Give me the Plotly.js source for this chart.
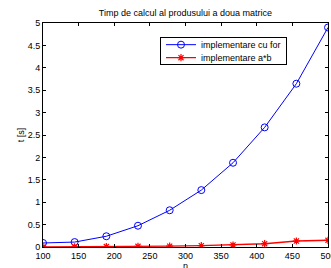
<!DOCTYPE html>
<html>
<head>
<meta charset="utf-8">
<script src="https://cdn.plot.ly/plotly-3.0.1.min.js"></script>
<style>html,body{margin:0;padding:0;background:#fff;}#chart{width:331px;height:268px;}</style>
</head>
<body>
<div id="chart"></div>
<script>
const nValues = [100, 144.4, 188.9, 233.3, 277.8, 322.2, 366.7, 411.1, 455.6, 500];
const forTimes = [0.09, 0.11, 0.24, 0.475, 0.82, 1.27, 1.88, 2.67, 3.645, 4.90];
const matTimes = [0.003, 0.005, 0.01, 0.015, 0.02, 0.03, 0.045, 0.074, 0.134, 0.15];
const seriesNames = ["implementare cu for", "implementare a*b"];
const xTicks = [100, 150, 200, 250, 300, 350, 400, 450, 500];
const yTicks = [0, 0.5, 1, 1.5, 2, 2.5, 3, 3.5, 4, 4.5, 5];
const xLabel = "n";
const yLabel = "t [s]";

const font = {family: "Liberation Sans, Arial, sans-serif", size: 9, color: "#000"};

const traces = [
  {x: nValues, y: forTimes, name: seriesNames[0], mode: "lines+markers",
   line: {color: "#0000ff", width: 1},
   marker: {symbol: "circle-open", size: 7, color: "#0000ff", line: {width: 1, color: "#0000ff"}}},
  {x: nValues, y: matTimes, name: seriesNames[1], mode: "lines+markers",
   line: {color: "#ff0000", width: 1.4},
   marker: {symbol: "asterisk-open", size: 6, color: "#ff0000", line: {width: 1.2, color: "#ff0000"}}}
];

const layout = {
  width: 331, height: 268,
  margin: {l: 43, r: 3, t: 23, b: 21, pad: 0},
  paper_bgcolor: "#fff", plot_bgcolor: "#fff",
  font: font,
  showlegend: true,
  title: {text: "Timp de calcul al produsului a doua matrice", font: font, x: 0.56, xanchor: "center", y: 0.952, yanchor: "middle"},
  xaxis: {range: [100, 500], tickvals: xTicks, ticktext: xTicks.map(String),
    showline: true, linecolor: "#000", linewidth: 1, mirror: "ticks",
    ticks: "inside", ticklen: 3, tickcolor: "#000", showgrid: false, zeroline: false,
    ticklabeloverflow: "allow", tickfont: font},
  yaxis: {range: [0, 5], tickvals: yTicks, ticktext: yTicks.map(String),
    showline: true, linecolor: "#000", linewidth: 1, mirror: "ticks",
    ticks: "inside", ticklen: 3, tickcolor: "#000", showgrid: false, zeroline: false,
    tickfont: font, title: {text: yLabel, font: font, standoff: 1}},
  annotations: [{text: xLabel, xref: "paper", yref: "paper", x: 0.5, y: -0.057,
    xanchor: "center", yanchor: "top", showarrow: false, font: font, borderpad: 0}],
  legend: {x: 0.4105, y: 0.939, xanchor: "left", yanchor: "top",
    bgcolor: "#fff", bordercolor: "#000", borderwidth: 1, font: font,
    tracegroupgap: 0, itemwidth: 30}
};

Plotly.newPlot("chart", traces, layout, {displayModeBar: false, staticPlot: true}).then(function (gd) {
  // compact the legend rows like the reference (13px rows)
  const leg = gd.querySelector(".legend");
  if (!leg) return;
  const items = leg.querySelectorAll(".traces");
  items.forEach(function (g, i) {
    const tr = g.getAttribute("transform") || "";
    const m = tr.match(/translate\(\s*([-\d.]+)[ ,]+([-\d.]+)/);
    const x = m ? parseFloat(m[1]) : 1;
    g.setAttribute("transform", "translate(" + x + "," + (8 + 13 * i) + ")");
  });
  const bg = leg.querySelector("rect.bg");
  if (bg) bg.setAttribute("height", 27.6);
});
</script>
</body>
</html>
